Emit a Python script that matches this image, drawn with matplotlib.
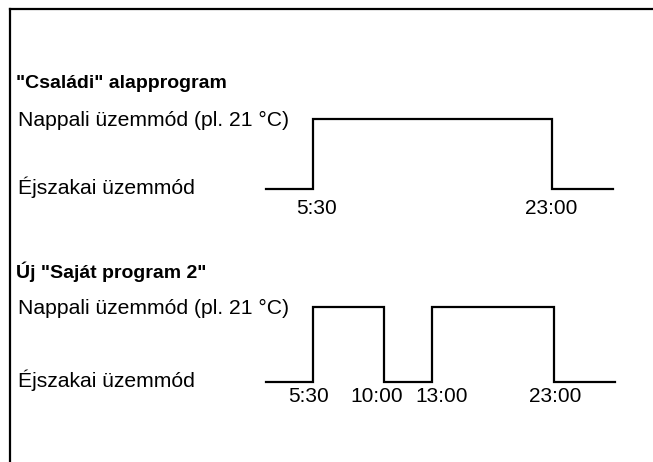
import numpy as np
import matplotlib
matplotlib.use("Agg")
import matplotlib.pyplot as plt
from matplotlib.transforms import blended_transform_factory

plt.rcParams['font.family'] = ['Liberation Sans', 'DejaVu Sans']

W, H = 653, 462

# ---- data ----
title1 = '"Családi" alapprogram'
title2 = 'Új "Saját program 2"'
day_label = 'Nappali üzemmód (pl. 21 °C)'
night_label = 'Éjszakai üzemmód'

prog1_times = [0, 5.5, 23, 24]
prog1_levels = [0, 1, 0, 0]
prog1_ticks = [5.5, 23]
prog1_ticklabels = ['5:30', '23:00']

prog2_times = [0, 5.5, 10, 13, 23, 24]
prog2_levels = [0, 1, 0, 1, 0, 0]
prog2_ticks = [5.5, 10, 13, 23]
prog2_ticklabels = ['5:30', '10:00', '13:00', '23:00']

# schematic (non-proportional) time axis
knot_hours = [0, 5.5, 10, 13, 23, 24]
knot_pos = [0, 47, 118, 166, 288, 349]

# label nudges in pixels (style only)
prog1_nudge = [4, -1]
prog2_nudge = [-4, -7, 10, 1]


def fwd(x):
    return np.interp(x, knot_hours, knot_pos)


def inv(p):
    return np.interp(p, knot_pos, knot_hours)


fig = plt.figure(figsize=(W / 100, H / 100), dpi=100)


def fx(px):
    return px / W


def fy(py):
    return 1 - py / H


# frame (top and left only)
fig.add_artist(plt.Line2D([fx(10), fx(10)], [fy(9), 0], color='black', lw=1.6,
                          transform=fig.transFigure))
fig.add_artist(plt.Line2D([fx(10), 1], [fy(9), fy(9)], color='black', lw=1.6,
                          transform=fig.transFigure))


def draw_block(title, title_y, day_y, night_y, times, levels, ticks, ticklabels,
               nudges, label_y, x0=266, x1=615):
    fig.text(fx(16), fy(title_y), title, fontsize=14, fontweight='bold',
             va='center', ha='left')
    fig.text(fx(18), fy(day_y), day_label, fontsize=15.2, va='center', ha='left')
    fig.text(fx(18), fy(night_y), night_label, fontsize=15.2, va='center', ha='left')
    ax = fig.add_axes([fx(x0), fy(night_y + 2), fx(x1) - fx(x0),
                       fy(day_y - 1) - fy(night_y + 2)])
    ax.set_xscale('function', functions=(fwd, inv))
    ax.set_xlim(0, 24)
    ax.set_ylim(0, 1)
    ax.axis('off')
    ax.plot(times, levels, drawstyle='steps-post', color='black', lw=1.6,
            clip_on=False, solid_joinstyle='miter')
    trans = blended_transform_factory(ax.transData, fig.transFigure)
    for t, lab, dx in zip(ticks, ticklabels, nudges):
        ax.annotate(lab, xy=(t, fy(label_y)), xycoords=trans,
                    xytext=(dx, 0), textcoords='offset pixels',
                    fontsize=15, ha='center', va='center')
    return ax


draw_block(title1, 83, 120, 187, prog1_times, prog1_levels, prog1_ticks,
           prog1_ticklabels, prog1_nudge, 208, x1=613)
draw_block(title2, 272, 308, 380, prog2_times, prog2_levels, prog2_ticks,
           prog2_ticklabels, prog2_nudge, 397)

fig.savefig('out.png', dpi=100)
